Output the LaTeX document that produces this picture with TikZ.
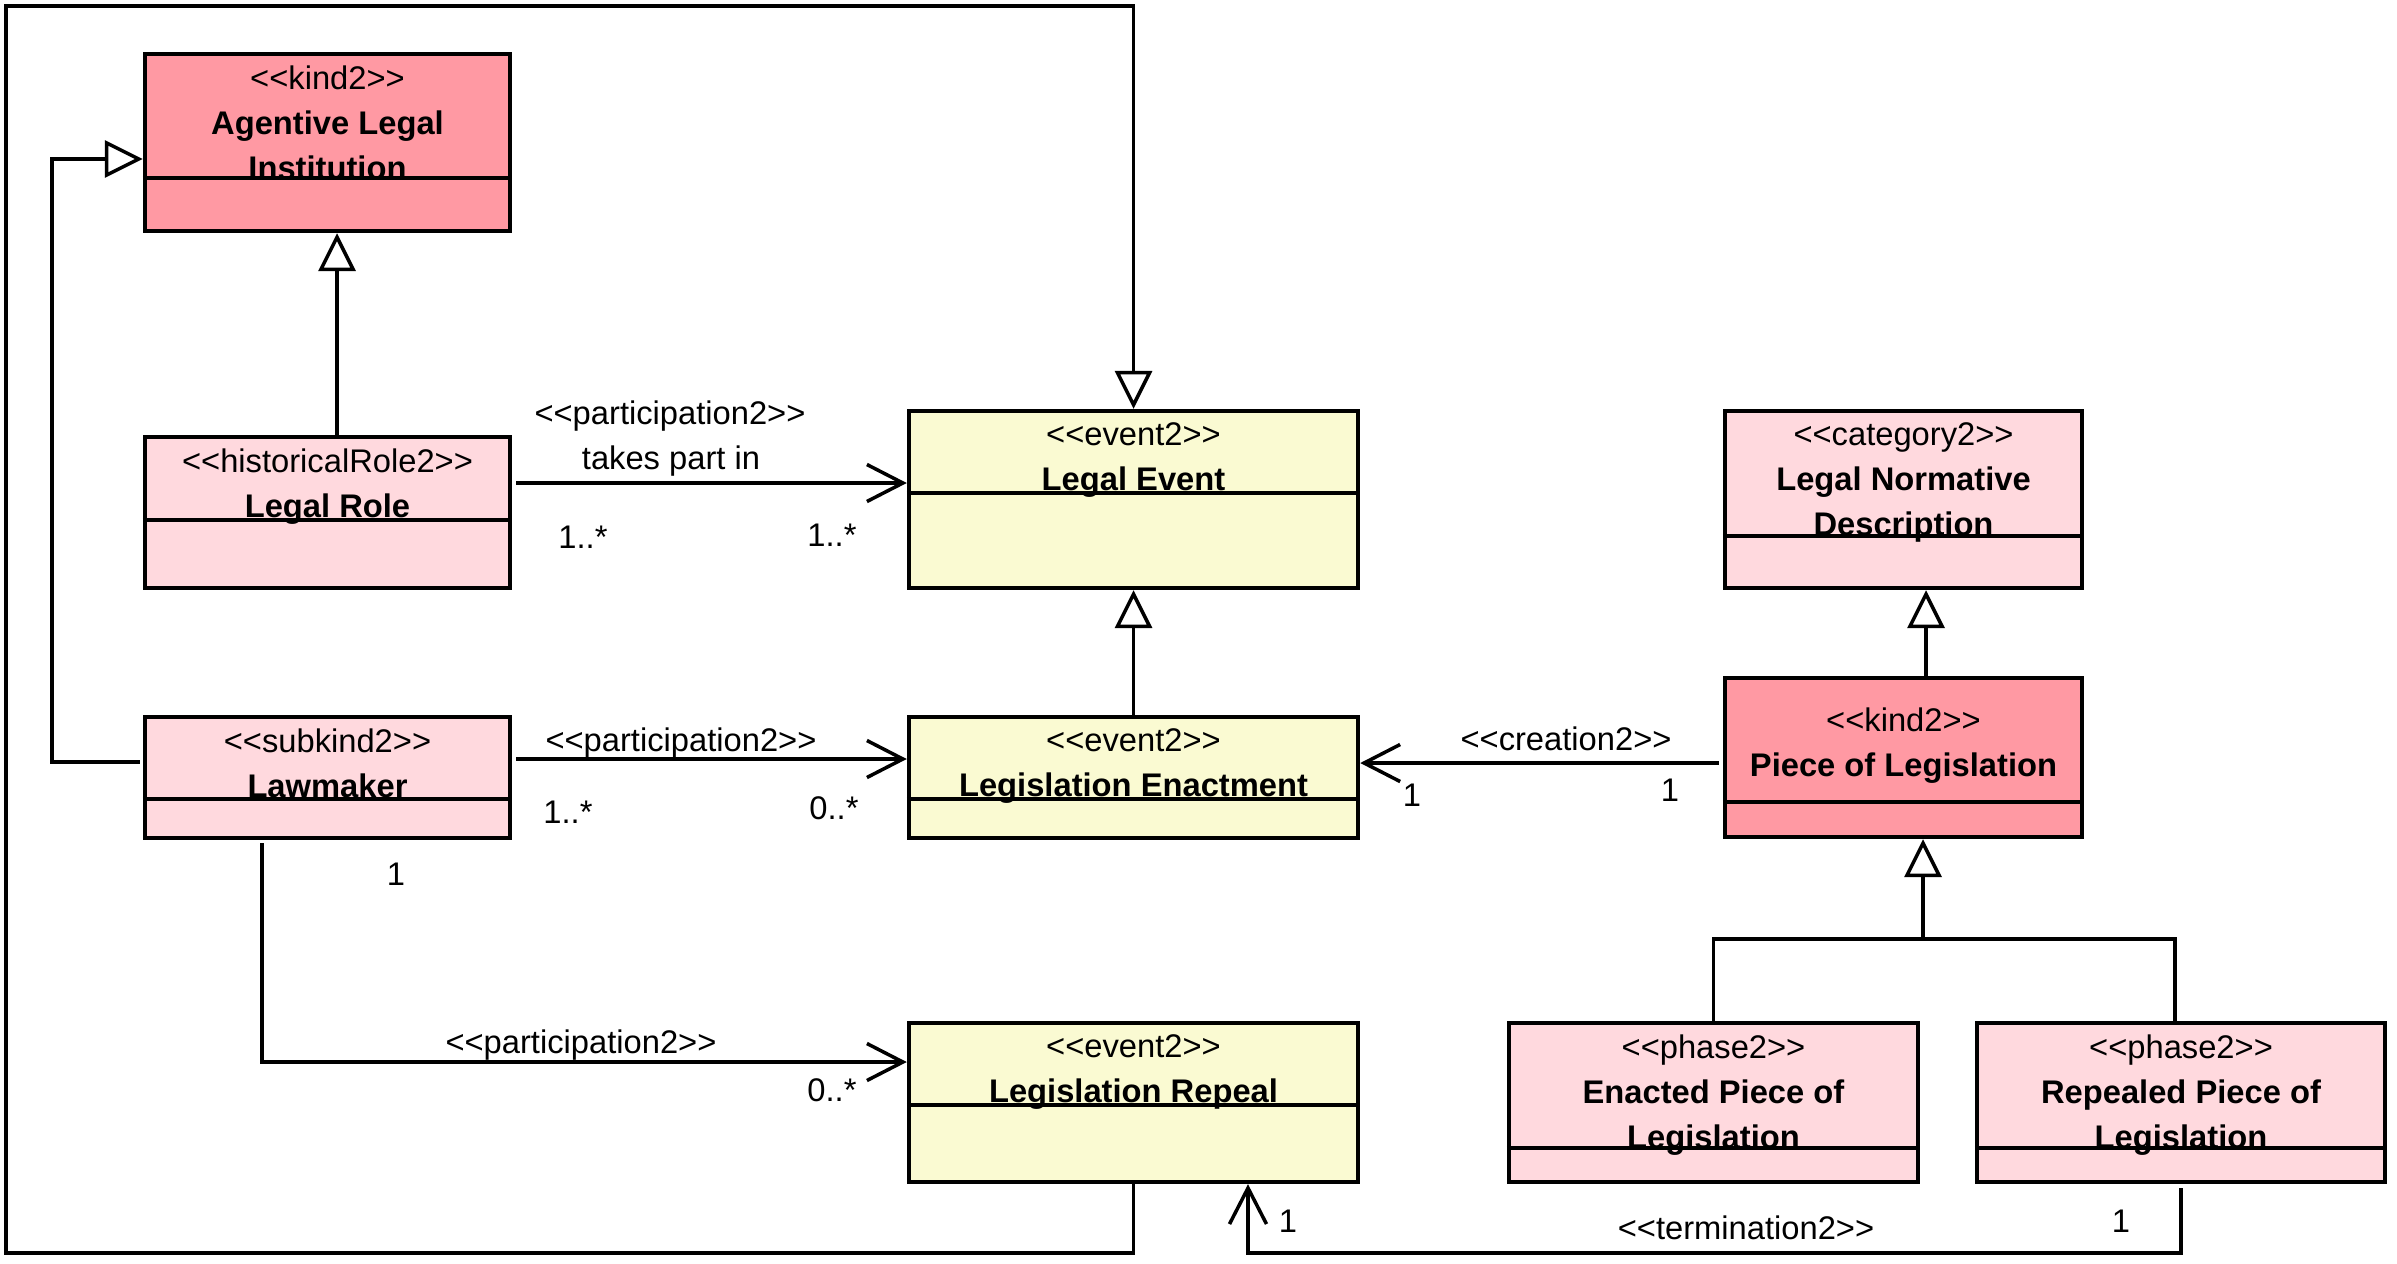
\documentclass[tikz,border=0pt]{standalone}
\usepackage{fontspec}
\setmainfont{Liberation Sans}
\usetikzlibrary{arrows.meta, calc}

\definecolor{kindpink}{RGB}{255,153,163}
\definecolor{rolepink}{RGB}{255,217,222}
\definecolor{eventyellow}{RGB}{250,250,210}

\newcommand{\stype}[1]{<{}<#1>{}>}

\tikzset{
  umlbox/.style={rectangle, draw=black, line width=1.2pt, inner sep=0pt},
  kindbox/.style={umlbox, fill=kindpink},
  rolebox/.style={umlbox, fill=rolepink},
  eventbox/.style={umlbox, fill=eventyellow},
  boxtext/.style={anchor=north, inner sep=0pt, align=center, font=\fontsize{9.3}{12.8}\selectfont},
  divider/.style={line width=1.2pt},
  lbl/.style={inner sep=0pt, text height=0.23cm, text depth=0pt, font=\fontsize{9.3}{11}\selectfont},
  plain/.style={line width=1pt},
  gen/.style={plain, -{Triangle[open, fill=white, length=0.38cm, width=0.37cm]}},
  assoc/.style={plain, -{Straight Barb[length=0.36cm, width=0.37cm]}}
}

\begin{document}
\begin{tikzpicture}[x=0.01cm, y=-0.01cm]
    \useasboundingbox (0,0) rectangle (2397,1263);

    % Classi a sinistra
    \node[kindbox, minimum width=3.65cm, minimum height=1.77cm] (agentive) at (327.5,142.5) {};
    \node[boxtext] (agentive-t) at ($(agentive.north)+(0,13)$) {\stype{kind2}\\\textbf{Agentive Legal}\\\textbf{Institution}};
    \draw[divider] ($(agentive.north west)+(0,126)$) -- ($(agentive.north east)+(0,126)$);

    \node[rolebox, minimum width=3.65cm, minimum height=1.51cm] (role) at (327.5,512.5) {};
    \node[boxtext] (role-t) at ($(role.north)+(0,13)$) {\stype{historicalRole2}\\\textbf{Legal Role}};
    \draw[divider] ($(role.north west)+(0,85)$) -- ($(role.north east)+(0,85)$);

    \node[rolebox, minimum width=3.65cm, minimum height=1.21cm] (lawmaker) at (327.5,777.5) {};
    \node[boxtext] (lawmaker-t) at ($(lawmaker.north)+(0,13)$) {\stype{subkind2}\\\textbf{Lawmaker}};
    \draw[divider] ($(lawmaker.north west)+(0,84)$) -- ($(lawmaker.north east)+(0,84)$);

    % Eventi
    \node[eventbox, minimum width=4.49cm, minimum height=1.77cm] (event) at (1133.5,499.5) {};
    \node[boxtext] (event-t) at ($(event.north)+(0,13)$) {\stype{event2}\\\textbf{Legal Event}};
    \draw[divider] ($(event.north west)+(0,84)$) -- ($(event.north east)+(0,84)$);

    \node[eventbox, minimum width=4.49cm, minimum height=1.21cm] (enact) at (1133.5,777.5) {};
    \node[boxtext] (enact-t) at ($(enact.north)+(0,13)$) {\stype{event2}\\\textbf{Legislation Enactment}};
    \draw[divider] ($(enact.north west)+(0,84)$) -- ($(enact.north east)+(0,84)$);

    \node[eventbox, minimum width=4.49cm, minimum height=1.59cm] (repeal) at (1133.5,1102.5) {};
    \node[boxtext] (repeal-t) at ($(repeal.north)+(0,13)$) {\stype{event2}\\\textbf{Legislation Repeal}};
    \draw[divider] ($(repeal.north west)+(0,84)$) -- ($(repeal.north east)+(0,84)$);

    % Legislazione
    \node[rolebox, minimum width=3.57cm, minimum height=1.77cm] (lnd) at (1903.5,499.5) {};
    \node[boxtext] (lnd-t) at ($(lnd.north)+(0,13)$) {\stype{category2}\\\textbf{Legal Normative}\\\textbf{Description}};
    \draw[divider] ($(lnd.north west)+(0,127)$) -- ($(lnd.north east)+(0,127)$);

    \node[kindbox, minimum width=3.57cm, minimum height=1.59cm] (pol) at (1903.5,757.5) {};
    \node[boxtext] (pol-t) at ($(pol.north)+(0,31)$) {\stype{kind2}\\\textbf{Piece of Legislation}};
    \draw[divider] ($(pol.north west)+(0,126)$) -- ($(pol.north east)+(0,126)$);

    \node[rolebox, minimum width=4.09cm, minimum height=1.59cm] (enacted) at (1713.5,1102.5) {};
    \node[boxtext] (enacted-t) at ($(enacted.north)+(0,13)$) {\stype{phase2}\\\textbf{Enacted Piece of}\\\textbf{Legislation}};
    \draw[divider] ($(enacted.north west)+(0,127)$) -- ($(enacted.north east)+(0,127)$);

    \node[rolebox, minimum width=4.08cm, minimum height=1.59cm] (repealed) at (2181,1102.5) {};
    \node[boxtext] (repealed-t) at ($(repealed.north)+(0,13)$) {\stype{phase2}\\\textbf{Repealed Piece of}\\\textbf{Legislation}};
    \draw[divider] ($(repealed.north west)+(0,127)$) -- ($(repealed.north east)+(0,127)$);

    % Generalizzazioni
    \coordinate (loopcorner) at (6,6);
    \coordinate (phasejoin) at (1923,939);
    \draw[gen] ($(role.north)+(9.5,0)$) -- ($(agentive.south)+(9.5,0)$);
    \draw[gen] ($(lawmaker.west)+(-3,-15.5)$) -- ++(-88,0) |- ($(agentive.west)+(0,16.5)$);
    \draw[gen] (enact.north) -- (event.south);
    \draw[gen] (repeal.south) -- ++(0,69) -| (loopcorner) -| (event.north);
    \draw[gen] ($(pol.north)+(22.5,0)$) -- ($(lnd.south)+(22.5,0)$);
    \draw[plain] (enacted.north) |- (phasejoin) -| ($(repealed.north)+(-6,0)$);
    \draw[gen] (phasejoin) -- ($(pol.south)+(19.5,0)$);

    % Associazioni
    \draw[assoc] ($(role.east)+(4,-29.5)$) -- ($(event.west)+(0,-16.5)$);
    \draw[assoc] ($(lawmaker.east)+(4,-18.5)$) -- ($(enact.west)+(0,-18.5)$);
    \draw[assoc] ($(lawmaker.south)+(-65.5,3)$) |- ($(repeal.west)+(0,-40.5)$);
    \draw[assoc] ($(pol.west)+(-4,5.5)$) -- ($(enact.east)+(0,-14.5)$);
    \draw[assoc] ($(repealed.south)+(0,4)$) -- ++(0,65) -| ($(repeal.south)+(114.5,0)$);

    % Etichette
    \node[lbl] (takes-st) at (670,413) {\stype{participation2}};
    \node[lbl] (takes-nm) at (671,458) {takes part in};
    \node[lbl] (role-m) at (583,537) {1..*};
    \node[lbl] (event-m) at (832,535) {1..*};
    \node[lbl] (enact-st) at (681,740) {\stype{participation2}};
    \node[lbl] (law-m1) at (568,812) {1..*};
    \node[lbl] (enact-m) at (834,808) {0..*};
    \node[lbl] (law-m2) at (396,874) {1};
    \node[lbl] (repeal-st) at (581,1042) {\stype{participation2}};
    \node[lbl] (repeal-m) at (832,1090) {0..*};
    \node[lbl] (creation-st) at (1566,739) {\stype{creation2}};
    \node[lbl] (creation-m1) at (1412,795) {1};
    \node[lbl] (creation-m2) at (1670,790) {1};
    \node[lbl] (term-m1) at (1288,1221) {1};
    \node[lbl] (term-st) at (1746,1228) {\stype{termination2}};
    \node[lbl] (term-m2) at (2121,1221) {1};
\end{tikzpicture}
\end{document}
